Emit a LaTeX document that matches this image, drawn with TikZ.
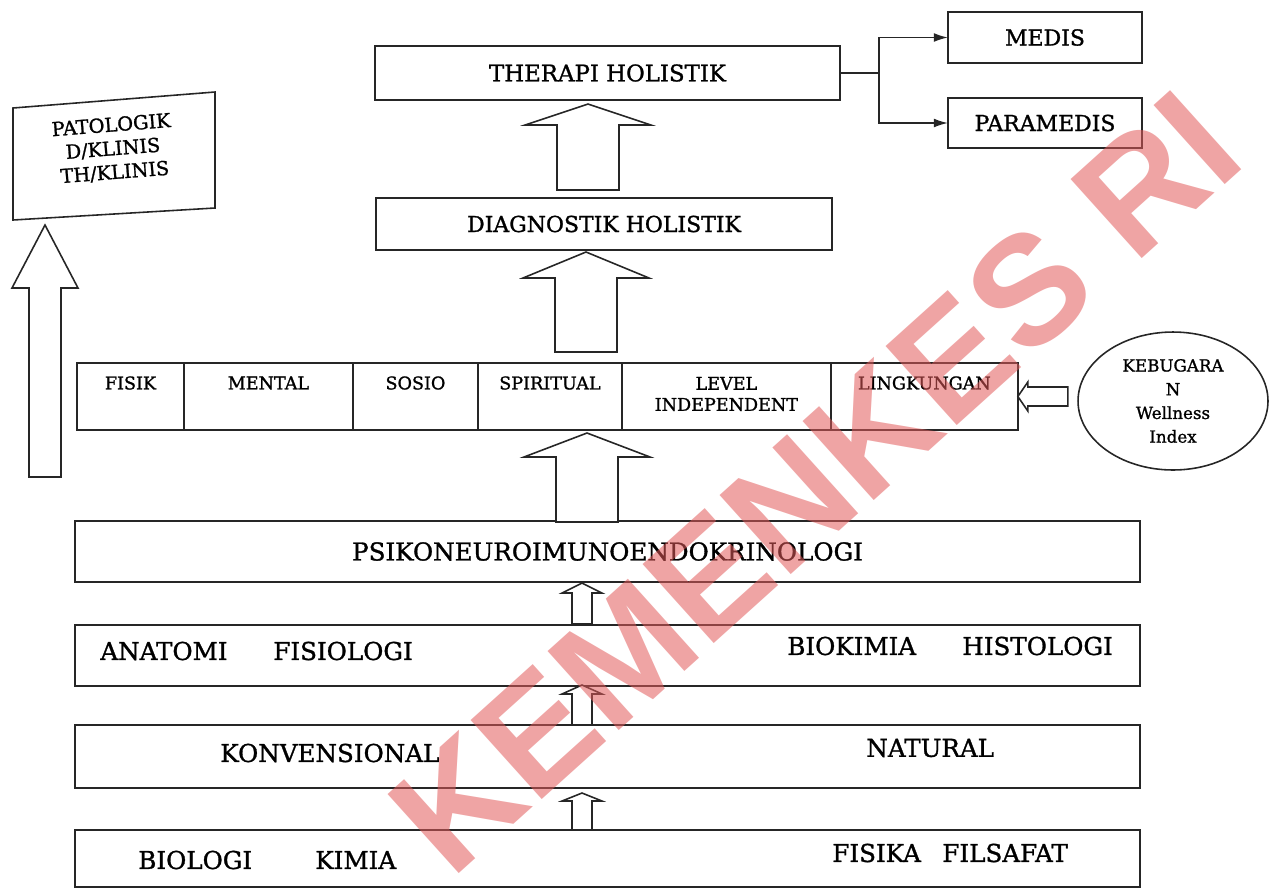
\documentclass[tikz,border=0pt]{standalone}
\usepackage{fontspec}
\setmainfont{DejaVu Serif}[FakeBold=1.2]
\newfontfamily\wmfont{Liberation Sans}
\usetikzlibrary{positioning}
\usetikzlibrary{arrows.meta}
\usetikzlibrary{shapes.geometric}
\colorlet{lineC}{black!85}
\definecolor{wmarkC}{RGB}{225,90,90}

\newcommand{\blockup}[6]{%
\draw[blk] (#1-#5,#3) -- (#1-#5,#6) -- (#1-#4,#6) -- (#1,#2) -- (#1+#4,#6) -- (#1+#5,#6) -- (#1+#5,#3) -- cycle;}

\tikzset{
  bar/.style={draw=lineC, line width=0.9pt, shape=rectangle, outer sep=0pt, inner sep=0pt},
  cell/.style={bar, minimum height=1.34cm},
  celltxt/.style={font=\fontsize{10}{12}\selectfont, align=center, anchor=center, yshift=-0.4cm},
  bartxt/.style={font=\fontsize{14}{16}\selectfont, anchor=west, inner sep=0pt},
  blk/.style={draw=lineC, line width=0.9pt, fill=white, line join=miter},
  conn/.style={draw=lineC, line width=0.9pt}
}

\begin{document}
\begin{tikzpicture}[x=0.02cm,y=-0.02cm]
\useasboundingbox (0,0) rectangle (1270,890);

% therapy and the two branches
\node[bar, minimum width=9.3cm, minimum height=1.08cm, font=\fontsize{13}{15}\selectfont]
(ther) at (607.5,73) {THERAPI HOLISTIK};
\node[bar, minimum width=3.88cm, minimum height=1.02cm, font=\fontsize{12.5}{15}\selectfont]
(medis) at (1045,37.5) {MEDIS};
\node[bar, minimum width=3.88cm, minimum height=1.0cm, font=\fontsize{12.5}{15}\selectfont]
(paramedis) at (1045,123) {PARAMEDIS};
\draw[conn] (ther.east) -- ++(39,0) coordinate (fork);
\draw[conn,-{Latex[length=8pt,width=5pt]}] (fork) |- (medis.west);
\draw[conn,-{Latex[length=8pt,width=5pt]}] (fork) |- (paramedis.west);

\node[bar, minimum width=9.12cm, minimum height=1.04cm, font=\fontsize{12.5}{15}\selectfont]
(diag) at (604,224) {DIAGNOSTIK HOLISTIK};

% pathology box at the left
\draw[conn] (13,108) -- (215,92) -- (215,208) -- (13,220) -- cycle;
\node[align=center, rotate=4.5, font=\fontsize{11}{13.5}\selectfont]
(pato) at (113,149) {PATOLOGIK\\D/KLINIS\\TH/KLINIS};

% the six aspects
\node[cell, minimum width=2.14cm, label={[celltxt]north:FISIK}] (fisik) at (130.5,396.5) {};
\node[cell, minimum width=3.38cm, right=0pt of fisik, label={[celltxt]north:MENTAL}] (mental) {};
\node[cell, minimum width=2.5cm, right=0pt of mental, label={[celltxt]north:SOSIO}] (sosio) {};
\node[cell, minimum width=2.88cm, right=0pt of sosio, label={[celltxt]north:SPIRITUAL}] (spirit) {};
\node[cell, minimum width=4.18cm, right=0pt of spirit,
label={[celltxt, yshift=-0.22cm]north:LEVEL\\INDEPENDENT}] (level) {};
\node[cell, minimum width=3.74cm, right=0pt of level, label={[celltxt]north:LINGKUNGAN}] (lingk) {};

\node[draw=lineC, line width=0.9pt, ellipse, inner sep=0pt, minimum width=3.8cm, minimum height=2.76cm,
align=center, font=\fontsize{9.5}{13.5}\selectfont]
(kebug) at (1173,401) {KEBUGARA\\N\\Wellness\\Index};
\draw[blk] (lingk.east) -- ++(10,-14.5) -- ++(0,5) -- ++(40,0) -- ++(0,19) -- ++(-40,0) -- ++(0,5) -- cycle;

% the four bars
\node[bar, minimum width=21.3cm, minimum height=1.22cm, font=\fontsize{14}{16}\selectfont]
(psiko) at (607.5,551.5) {PSIKONEUROIMUNOENDOKRINOLOGI};
\node[bar, minimum width=21.3cm, minimum height=1.22cm] (anabar) at (607.5,655.5) {};
\node[bar, minimum width=21.3cm, minimum height=1.26cm] (konbar) at (607.5,756.5) {};
\node[bar, minimum width=21.3cm, minimum height=1.14cm] (biobar) at (607.5,858.5) {};

\node[bartxt] (anat) at (100,651) {ANATOMI};
\node[bartxt] (fisio) at (273,651) {FISIOLOGI};
\node[bartxt] (biokim) at (787,646) {BIOKIMIA};
\node[bartxt] (histo) at (962,646) {HISTOLOGI};
\node[bartxt] (konv) at (220,753) {KONVENSIONAL};
\node[bartxt] (natur) at (866,748) {NATURAL};
\node[bartxt] (biol) at (138,860) {BIOLOGI};
\node[bartxt] (kimia) at (315,860) {KIMIA};
\node[bartxt] (fisika) at (832,853) {FISIKA};
\node[bartxt] (filsa) at (942,853) {FILSAFAT};

% block arrows
\blockup{45}{225}{477}{33}{16}{288}
\blockup{588}{104}{190}{63}{31}{125}
\blockup{586}{252}{352}{63}{31}{278}
\blockup{587}{433}{522}{63}{31}{457}
\blockup{582}{583}{624}{20}{10}{593}
\blockup{582}{685}{725}{20}{10}{694}
\blockup{582}{793}{830}{20}{10}{801}

% watermark
\node[font=\wmfont\bfseries\fontsize{88}{88}\selectfont, text=wmarkC, text opacity=0.55, rotate=42]
(wmark) at (815,482) {KEMENKES RI};

\end{tikzpicture}
\end{document}
